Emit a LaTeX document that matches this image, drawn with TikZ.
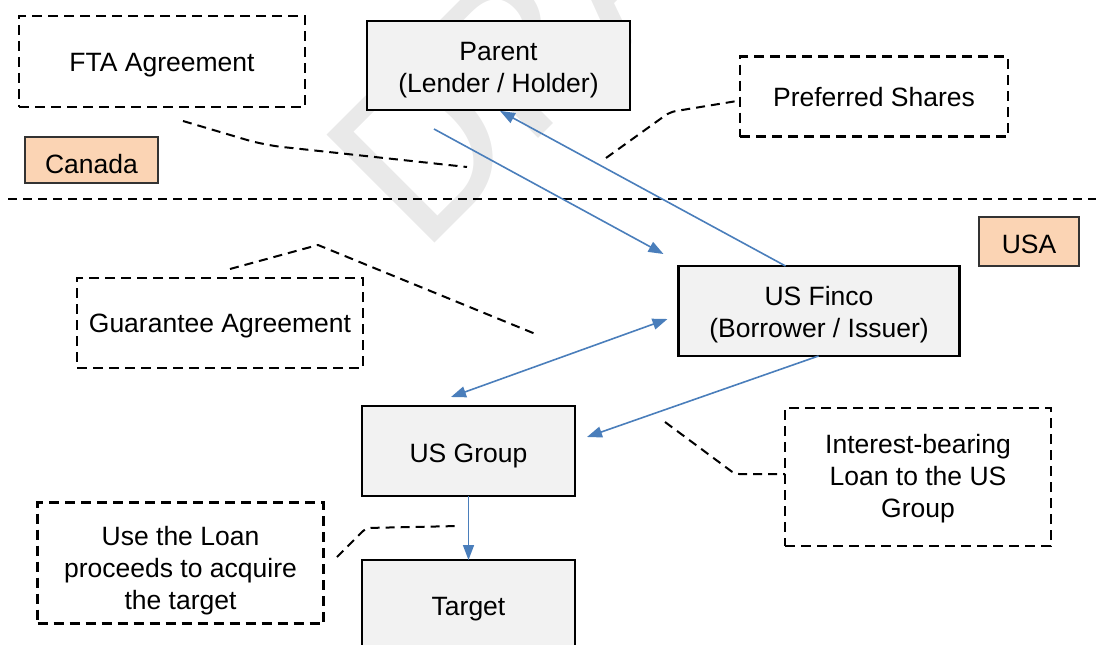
\documentclass[tikz,border=0pt]{standalone}
\usepackage{fontspec}
\setmainfont{Liberation Sans}
\newfontfamily\wmfont{Carlito}
\usetikzlibrary{arrows.meta,calc}

\definecolor{boxgray}{HTML}{F2F2F2}
\definecolor{flowblue}{HTML}{4A7EBB}
\definecolor{regionfill}{HTML}{FBD4B4}
\definecolor{wmgray}{HTML}{E9E9E9}

\begin{document}
\begin{tikzpicture}[x=1pt,y=-1pt,
  every node/.style={inner sep=0pt, outer sep=0pt},
  txt/.style={font=\fontsize{26.5}{32}\selectfont, align=center, text=black},
  entity/.style={draw=black, line width=2.5pt, fill=boxgray, rectangle},
  notebox/.style={draw=black, line width=2.5pt, dash pattern=on 10pt off 6pt, rectangle},
  regionbox/.style={draw=black!80, line width=1.5pt, fill=regionfill, rectangle},
  flow/.style={draw=flowblue, line width=1.6pt, -{Triangle[length=15pt,width=11pt]}},
  flowboth/.style={draw=flowblue, line width=1.6pt, {Triangle[length=15pt,width=11pt]}-{Triangle[length=15pt,width=11pt]}},
  callout/.style={draw=black, line width=2pt, dash pattern=on 9pt off 6pt},
]
\clip (0,0) rectangle (1096,645);

% faint watermark behind everything
\node (wm) [rotate=45, anchor=base west, text=wmgray,
  font=\wmfont\fontsize{238}{238}\selectfont] at (423,254) {DRAFT};

% border between the two countries
\coordinate (bl) at (8,199);
\coordinate (br) at (1096,199);
\draw[callout] (bl) -- (br);

% country tags
\node (canada) [regionbox, minimum width=133pt, minimum height=46pt] at (91.5,160) {};
\node (canada-t) [txt] at (91.5,166.9) {\strut Canada};
\node (usa) [regionbox, minimum width=100pt, minimum height=49pt] at (1029,241.5) {};
\node (usa-t) [txt] at (1029,246.6) {\strut USA};

% entities
\node (parent) [entity, minimum width=263pt, minimum height=89pt] at (498.5,65.4) {};
\node (parent-t) [txt] at (498.5,69.6) {\strut Parent\\\strut (Lender / Holder)};
\node (finco) [entity, minimum width=281pt, minimum height=90pt] at (819,311) {};
\node (finco-t) [txt] at (819,315) {\strut US Finco\\\strut (Borrower / Issuer)};
\node (usgroup) [entity, minimum width=213pt, minimum height=90pt] at (468.5,451) {};
\node (usgroup-t) [txt] at (468.5,455.6) {\strut US Group};
\node (target) [entity, minimum width=213pt, minimum height=110pt] at (468.5,615) {};
\node (target-t) [txt] at (468.5,608.6) {\strut Target};

% notes
\node (fta) [notebox, minimum width=286pt, minimum height=91pt] at (162,61.3) {};
\node (fta-t) [txt] at (162,64.6) {\strut FTA Agreement};
\node (pref) [notebox, minimum width=268pt, minimum height=80pt] at (874,96.7) {};
\node (pref-t) [txt] at (874,100.3) {\strut Preferred Shares};
\node (guar) [notebox, minimum width=286pt, minimum height=90pt] at (220,323) {};
\node (guar-t) [txt] at (220,325.6) {\strut Guarantee Agreement};
\node (intr) [notebox, minimum width=266pt, minimum height=138pt] at (918,477) {};
\node (intr-t) [txt] at (918,478.6) {\strut Interest-bearing\\\strut Loan to the US\\\strut Group};
\node (loan) [notebox, minimum width=286pt, minimum height=121pt] at (180.5,563) {};
\node (loan-t) [txt] at (180.5,570.6) {\strut Use the Loan\\\strut proceeds to acquire\\\strut the target};

% flow arrows
\coordinate (a1s) at (434,129);
\coordinate (a1e) at (663.5,254);
\draw[flow] (a1s) -- (a1e);

\coordinate (a2s) at ($(finco.north west)+(107,0)$);
\coordinate (a2e) at ($(parent.south west)+(133,1)$);
\draw[flow] (a2s) -- (a2e);

\coordinate (a3s) at (451,397);
\coordinate (a3e) at (667.5,319);
\draw[flowboth] (a3s) -- (a3e);

\coordinate (a4s) at ($(finco.south west)+(140,0)$);
\coordinate (a4e) at (587,437);
\draw[flow] (a4s) -- (a4e);

\draw[flow] (usgroup.south) -- (target.north);

% callout leaders
\coordinate (c1a) at (183,121);
\coordinate (c1b) at (264,145);
\coordinate (c1c) at (467,167);
\draw[callout, rounded corners=18pt] (c1a) -- (c1b) -- (c1c);

\coordinate (c2a) at (606,158);
\coordinate (c2b) at (670,112);
\coordinate (c2c) at (737,101);
\draw[callout, rounded corners=6pt] (c2a) -- (c2b) -- (c2c);

\coordinate (c3a) at (230,269);
\coordinate (c3b) at (318,245);
\coordinate (c3c) at (538,335);
\draw[callout] (c3a) -- (c3b) -- (c3c);

\coordinate (c4a) at (665,422);
\coordinate (c4b) at (735,474);
\draw[callout, rounded corners=4pt] (c4a) -- (c4b) -- (intr.west |- c4b);

\coordinate (c5a) at (337,557);
\coordinate (c5b) at (366,528);
\coordinate (c5c) at (459,526);
\draw[callout, rounded corners=5pt] (c5a) -- (c5b) -- (c5c);
\end{tikzpicture}
\end{document}
